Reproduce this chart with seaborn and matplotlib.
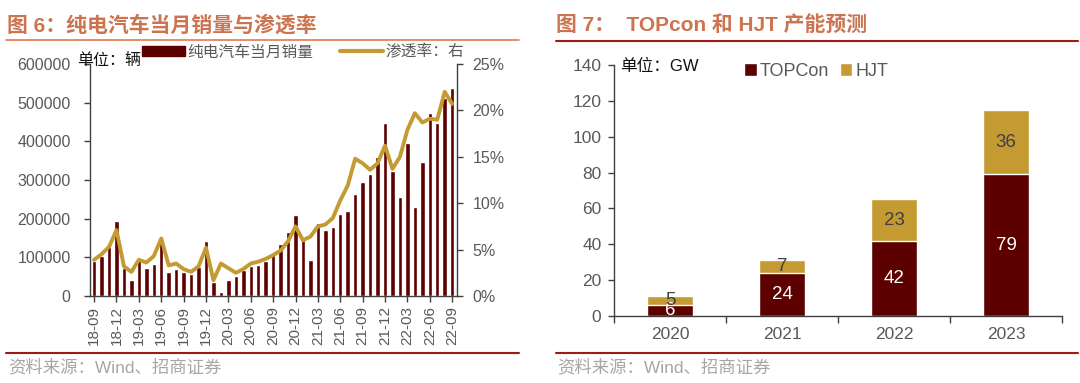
import numpy as np
import pandas as pd
import matplotlib
matplotlib.use("Agg")
import matplotlib.pyplot as plt
import seaborn as sns
from matplotlib.lines import Line2D
from matplotlib.patches import Patch
from matplotlib.ticker import FuncFormatter

# ---- left chart data: BEV monthly sales (vehicles) and penetration (%) ----
bev_sales = [91000, 104000, 129000, 194000, 72000, 42000, 97000, 72000, 83000, 138000,
             63000, 70000, 62000, 57000, 75000, 142000, 35000, 11000, 42000, 53000,
             66000, 78000, 81000, 91000, 110000, 134000, 166000, 209000, 150000, 93000,
             190000, 171000, 178000, 211000, 220000, 264000, 296000, 315000, 359000, 447000,
             322000, 257000, 395000, 231000, 346000, 472000, 447000, 511000, 537000]
penetration = [3.9, 4.5, 5.3, 7.1, 3.2, 2.6, 3.9, 3.6, 4.3, 6.2,
               3.3, 3.5, 2.9, 2.6, 3.2, 5.2, 1.7, 3.5, 3.0, 2.5,
               2.9, 3.5, 3.7, 4.0, 4.4, 4.9, 5.9, 7.5, 6.0, 6.4,
               7.5, 7.7, 8.4, 10.3, 11.9, 14.8, 14.3, 13.6, 14.3, 16.2,
               13.7, 15.0, 17.9, 19.7, 18.7, 19.1, 19.0, 22.0, 20.7]
month_ticks = ['18-09', '18-12', '19-03', '19-06', '19-09', '19-12', '20-03', '20-06',
               '20-09', '20-12', '21-03', '21-06', '21-09', '21-12', '22-03', '22-06', '22-09']

# ---- right chart data: TOPCon / HJT capacity (GW) ----
years = ['2020', '2021', '2022', '2023']
topcon = [6, 24, 42, 79]
hjt = [5, 7, 23, 36]

BAR_RED = '#5C0000'
GOLD = '#C49A33'
TITLE_C = '#CC7450'
GRAY = '#595959'
SRC_GRAY = '#A6A6A6'

sns.set_style('white')
plt.rcParams['font.family'] = ['Liberation Sans', 'Noto Sans CJK SC', 'DejaVu Sans']
plt.rcParams['axes.unicode_minus'] = False

W, H = 1080, 383
fig = plt.figure(figsize=(W / 100, H / 100), dpi=100)


def fx(px):
    return px / W


def fy(py):
    return 1 - py / H


# ================= left chart =================
ax1 = fig.add_axes([fx(90), fy(296), fx(367), (296 - 64) / H])
n = len(bev_sales)
left_df = pd.DataFrame({'idx': np.arange(n), 'sales': bev_sales, 'pen': np.array(penetration) / 100})

sns.barplot(data=left_df, x='idx', y='sales', ax=ax1, color=BAR_RED, saturation=1,
            width=0.6, native_scale=True)
ax1.set_xlim(-0.55, n - 0.35)
ax1.set_ylim(0, 600000)
ax1.set_yticks(np.arange(0, 600001, 100000))
ax1.set_xticks(np.arange(0, n, 3))
ax1.set_xticklabels(month_ticks, rotation=90)
ax1.set_xlabel('')
ax1.set_ylabel('')

ax2 = ax1.twinx()
sns.lineplot(data=left_df, x='idx', y='pen', ax=ax2, color=GOLD, linewidth=2.8)
ax2.set_ylim(0, 0.25)
ax2.set_yticks(np.arange(0, 0.251, 0.05))
ax2.yaxis.set_major_formatter(FuncFormatter(lambda v, p: f'{v * 100:.0f}%'))
ax2.set_ylabel('')
ax2.set_xlim(-0.55, n - 0.35)

for a in (ax1, ax2):
    for s in a.spines.values():
        s.set_visible(False)
ax1.spines['left'].set_visible(True)
ax1.spines['bottom'].set_visible(True)
ax2.spines['right'].set_visible(True)
for s in (ax1.spines['left'], ax1.spines['bottom'], ax2.spines['right']):
    s.set_color('#404040')
    s.set_linewidth(1)

ax1.tick_params(axis='y', direction='out', length=4, width=1, color='#404040',
                labelsize=11.5, labelcolor=GRAY, left=True, pad=10)
ax1.tick_params(axis='x', direction='out', length=4, width=1, color='#404040',
                labelsize=11, labelcolor=GRAY, bottom=True, pad=3)
ax2.tick_params(axis='y', direction='out', length=4, width=1, color='#404040',
                labelsize=11.5, labelcolor=GRAY, right=True, pad=7)

leg_handles = [Patch(facecolor=BAR_RED, edgecolor=BAR_RED),
               Line2D([0], [0], color=GOLD, linewidth=3)]
fig.legend(leg_handles, ['纯电汽车当月销量', '渗透率：右'], loc='center left',
           bbox_to_anchor=(fx(128), fy(52)), ncol=2, frameon=False, fontsize=11.3,
           labelcolor=GRAY, handlelength=2.7, handleheight=0.6, handletextpad=0.2,
           columnspacing=1.7)
fig.text(fx(77), fy(61), '单位：辆', fontsize=11.5, color='#111111', va='center', ha='left')

# ================= right chart =================
ax3 = fig.add_axes([fx(614), fy(316), fx(448), (316 - 65) / H])
right_df = pd.DataFrame({'year': years, 'TOPCon': topcon, 'HJT': hjt})
right_df['total'] = right_df['TOPCon'] + right_df['HJT']

sns.barplot(data=right_df, x='year', y='total', ax=ax3, color=GOLD, saturation=1, width=0.41)
sns.barplot(data=right_df, x='year', y='TOPCon', ax=ax3, color=BAR_RED, saturation=1, width=0.41)
ax3.set_xlim(-0.5, 3.5)
ax3.set_ylim(0, 140)
ax3.set_yticks(np.arange(0, 141, 20))
ax3.set_xlabel('')
ax3.set_ylabel('')

for i, (t, h) in enumerate(zip(topcon, hjt)):
    ax3.text(i, t / 2, str(t), ha='center', va='center', color='white', fontsize=13.5)
    ax3.text(i, t + h / 2, str(h), ha='center', va='center', color='#404040', fontsize=13.5)

for s in ('top', 'right'):
    ax3.spines[s].set_visible(False)
for s in ('left', 'bottom'):
    ax3.spines[s].set_color('#404040')
    ax3.spines[s].set_linewidth(1)
ax3.set_xticks(np.arange(-0.5, 3.6, 1), minor=True)
ax3.tick_params(axis='x', which='major', length=0, labelsize=12.5, labelcolor=GRAY, pad=8)
ax3.tick_params(axis='x', which='minor', direction='out', length=5, width=1, color='#404040',
                bottom=True)
ax3.tick_params(axis='y', direction='out', length=4, width=1, color='#404040',
                labelsize=12.5, labelcolor=GRAY, left=True, pad=5)

r_handles = [Patch(facecolor=BAR_RED), Patch(facecolor=GOLD)]
fig.legend(r_handles, ['TOPCon', 'HJT'], loc='center left', bbox_to_anchor=(fx(728), fy(71)),
           ncol=2, frameon=False, fontsize=13, labelcolor=GRAY, handlelength=0.7,
           handleheight=0.7, handletextpad=0.15, columnspacing=0.6)
fig.text(fx(620), fy(66), '单位：GW', fontsize=12, color='#111111', va='center', ha='left')

# ================= titles, rules, sources =================
fig.text(fx(7), fy(25), '图 6：纯电汽车当月销量与渗透率', fontsize=15, fontweight='bold',
         color=TITLE_C, va='center', ha='left')
fig.text(fx(556), fy(25), '图 7：  TOPcon 和 HJT 产能预测', fontsize=15, fontweight='bold',
         color=TITLE_C, va='center', ha='left')
fig.add_artist(Line2D([fx(6), fx(519)], [fy(39.5), fy(39.5)], color='#E07A4E', lw=1.2))
fig.add_artist(Line2D([fx(556), fx(1078)], [fy(40.5), fy(40.5)], color='#A01818', lw=1.5))
fig.add_artist(Line2D([fx(6), fx(519)], [fy(353), fy(353)], color='#A01818', lw=1.5))
fig.add_artist(Line2D([fx(556), fx(1078)], [fy(353), fy(353)], color='#A01818', lw=1.5))
fig.text(fx(8), fy(367), '资料来源：Wind、招商证券', fontsize=12.5, color=SRC_GRAY,
         va='center', ha='left')
fig.text(fx(557), fy(367), '资料来源：Wind、招商证券', fontsize=12.5, color=SRC_GRAY,
         va='center', ha='left')

fig.savefig('out.png', dpi=100)
